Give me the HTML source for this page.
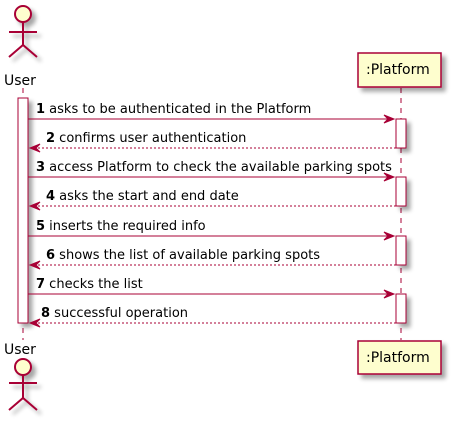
<!DOCTYPE html>
<html><head><style>body{margin:0;background:#fff}svg{display:block}</style></head><body>
<svg width="453" height="422" xmlns="http://www.w3.org/2000/svg" font-family="DejaVu Sans, Liberation Sans, sans-serif" font-size="13">
<defs><filter id="s" x="-20%" y="-20%" width="150%" height="150%"><feGaussianBlur in="SourceAlpha" stdDeviation="2"/><feOffset dx="4" dy="4"/><feComponentTransfer><feFuncA type="linear" slope="0.35"/></feComponentTransfer><feMerge><feMergeNode/><feMergeNode in="SourceGraphic"/></feMerge></filter></defs>
<g stroke="#A80036" stroke-dasharray="5,5" stroke-width="1">
<line x1="23" y1="88" x2="23" y2="340"/>
<line x1="401" y1="88" x2="401" y2="340"/>
</g>
<g stroke="#A80036" stroke-width="2" fill="#FEFECE" filter="url(#s)">
<circle cx="23" cy="14" r="8"/>
<path d="M23 22V45M9 32H37M9 57L23 45L37 57" fill="none"/>
<circle cx="23" cy="367" r="8"/>
<path d="M23 375V398M9 383H37M9 410L23 398L37 410" fill="none"/>
</g>
<text x="4" y="85" font-size="14">User</text>
<text x="4" y="354" font-size="14">User</text>
<g fill="#FEFECE" stroke="#A80036" stroke-width="1.5" filter="url(#s)">
<rect x="358" y="53" width="83" height="34"/>
<rect x="358" y="341" width="83" height="33"/>
</g>
<text x="366" y="74" font-size="14">:Platform</text>
<text x="366" y="362" font-size="14">:Platform</text>
<g fill="#fff" stroke="#A80036" stroke-width="1" filter="url(#s)">
<rect x="18" y="98" width="10" height="225"/>
<rect x="396" y="119" width="10" height="29"/>
<rect x="396" y="177" width="10" height="29"/>
<rect x="396" y="236" width="10" height="29"/>
<rect x="396" y="294" width="10" height="29"/>
</g>
<g stroke="#A80036" stroke-width="1" fill="none">
<line x1="28" y1="119" x2="394" y2="119"/>
<line x1="28" y1="177" x2="394" y2="177"/>
<line x1="28" y1="236" x2="394" y2="236"/>
<line x1="28" y1="294" x2="394" y2="294"/>
<g stroke-dasharray="2,2">
<line x1="30" y1="148" x2="396" y2="148"/>
<line x1="30" y1="206" x2="396" y2="206"/>
<line x1="30" y1="265" x2="396" y2="265"/>
<line x1="30" y1="323" x2="396" y2="323"/>
</g>
</g>
<g fill="#A80036" stroke="#A80036">
<path d="M384 115L394 119L384 123L388 119Z"/>
<path d="M384 173L394 177L384 181L388 177Z"/>
<path d="M384 232L394 236L384 240L388 236Z"/>
<path d="M384 290L394 294L384 298L388 294Z"/>
<path d="M40 144L30 148L40 152L36 148Z"/>
<path d="M40 202L30 206L40 210L36 206Z"/>
<path d="M40 261L30 265L40 269L36 265Z"/>
<path d="M40 319L30 323L40 327L36 323Z"/>
</g>
<g fill="#000">
<text x="36" y="113"><tspan font-weight="bold">1</tspan> asks to be authenticated in the Platform</text>
<text x="46" y="142"><tspan font-weight="bold">2</tspan> confirms user authentication</text>
<text x="36" y="171"><tspan font-weight="bold">3</tspan> access Platform to check the available parking spots</text>
<text x="46" y="200"><tspan font-weight="bold">4</tspan> asks the start and end date</text>
<text x="36" y="230"><tspan font-weight="bold">5</tspan> inserts the required info</text>
<text x="46" y="259"><tspan font-weight="bold">6</tspan> shows the list of available parking spots</text>
<text x="36" y="288"><tspan font-weight="bold">7</tspan> checks the list</text>
<text x="41" y="317"><tspan font-weight="bold">8</tspan> successful operation</text>
</g>
</svg>
</body></html>
